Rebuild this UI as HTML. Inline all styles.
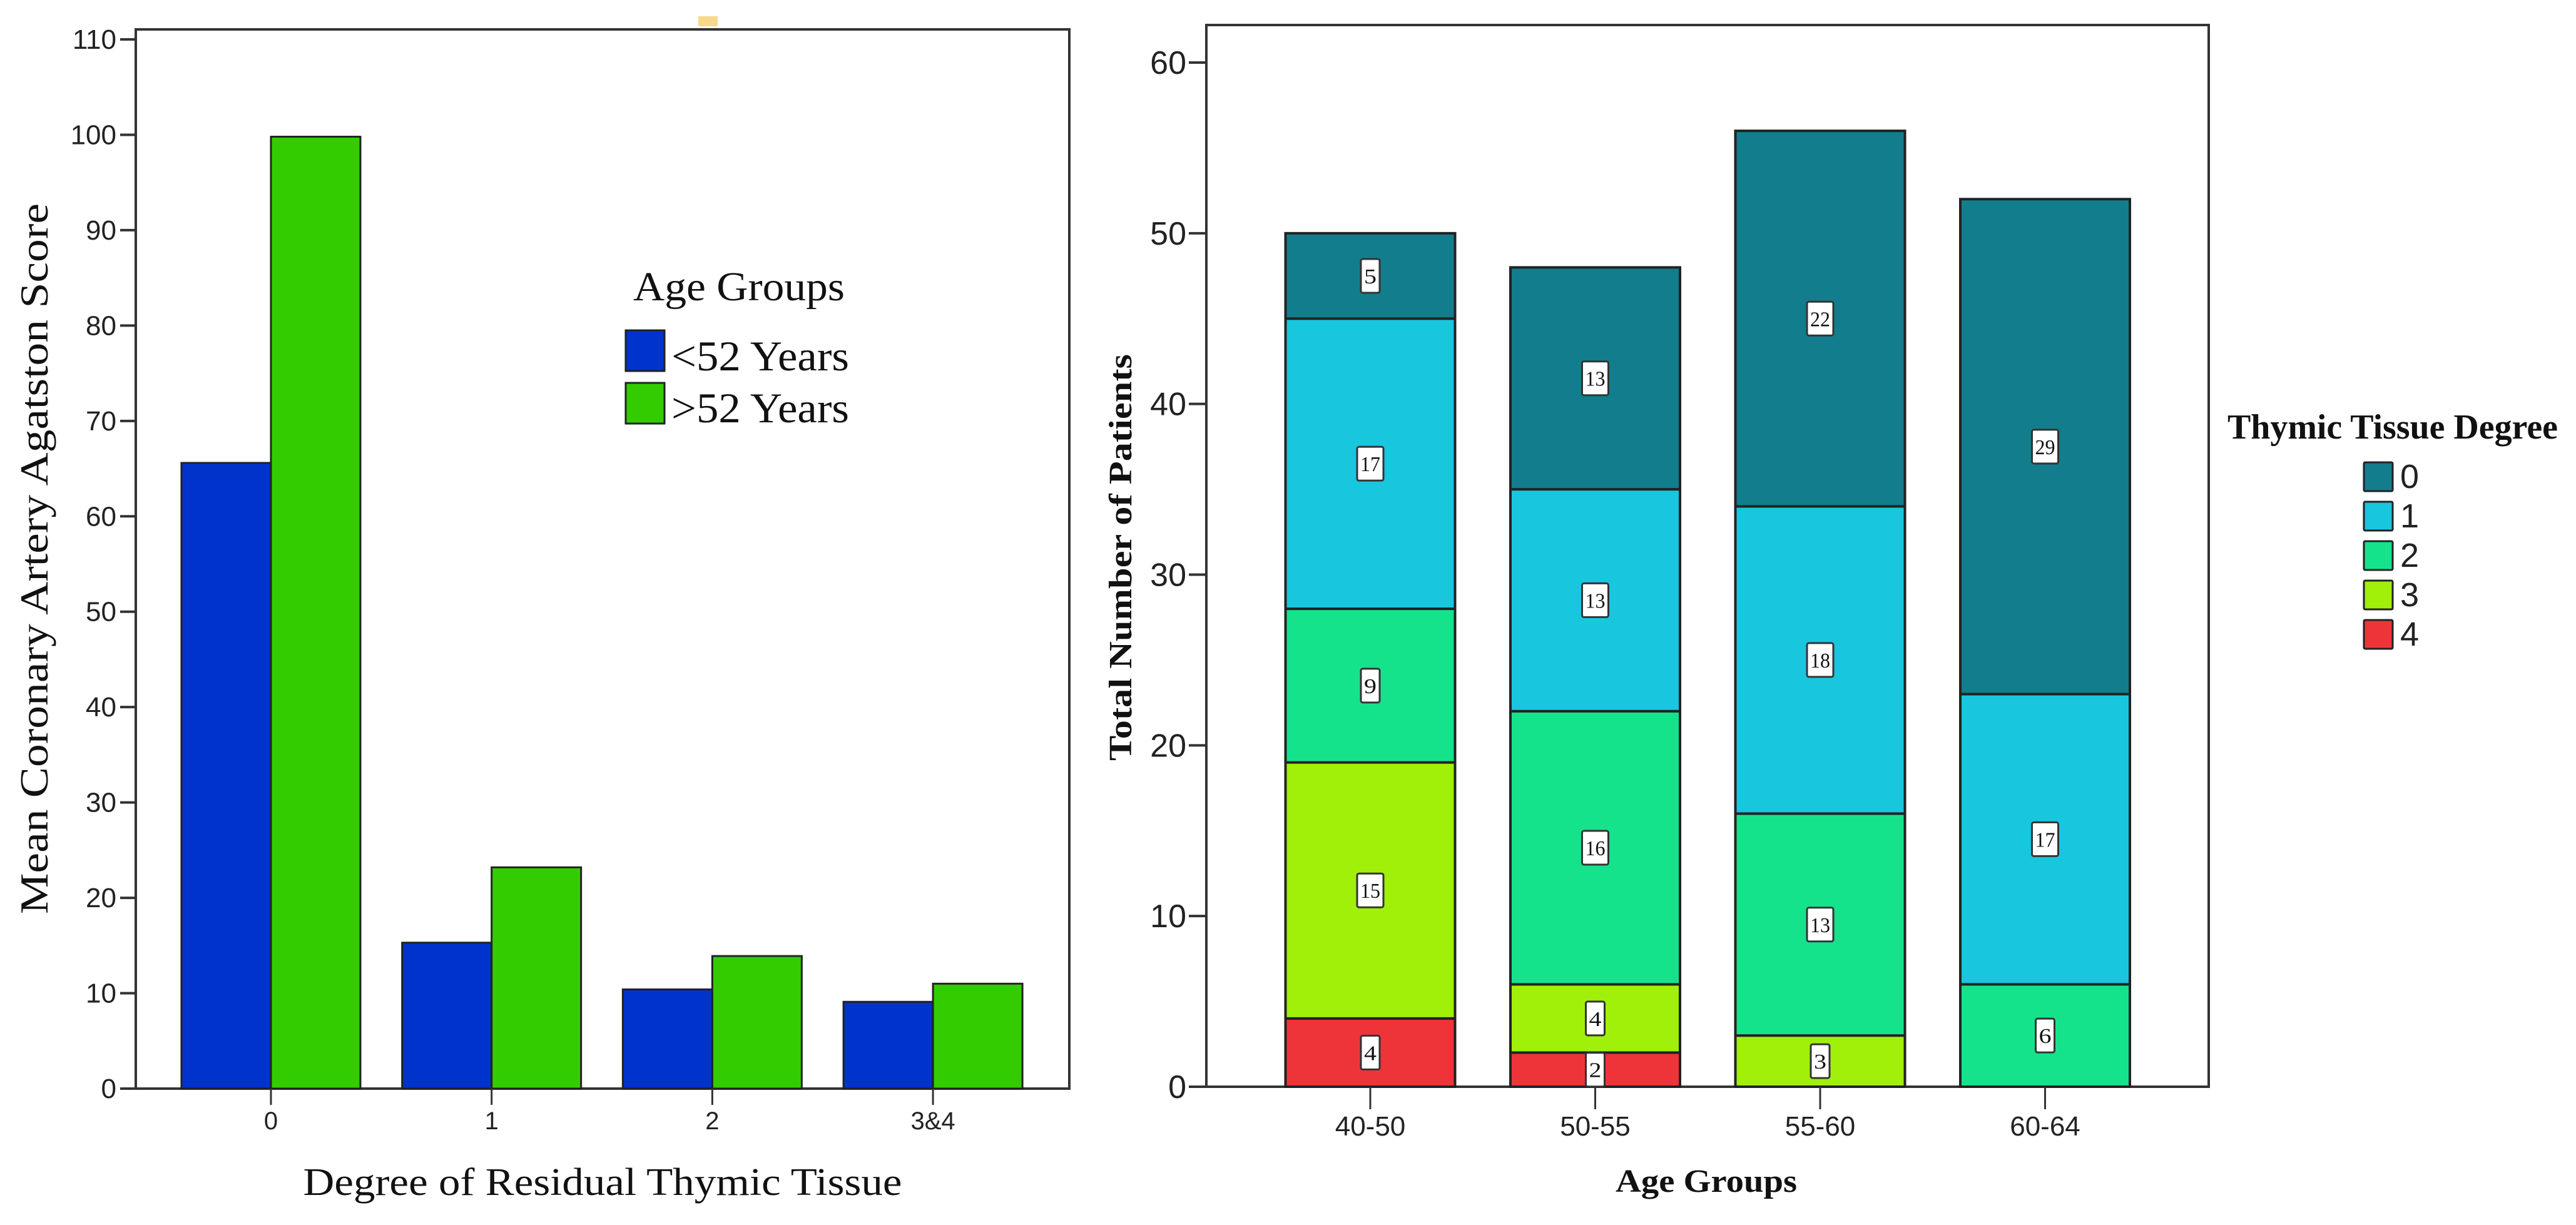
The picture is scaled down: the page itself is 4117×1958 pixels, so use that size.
<!DOCTYPE html>
<html><head><meta charset="utf-8"><style>
html,body{margin:0;padding:0;background:#fff;}
svg{display:block;}
.tk{font-family:"Liberation Sans Narrow","Liberation Sans",sans-serif;fill:#222;}
.sr{font-family:"Liberation Serif",serif;fill:#111;}
</style></head><body>
<svg id="chart" width="4117" height="1958" viewBox="0 0 4117 1958" xmlns="http://www.w3.org/2000/svg">
<rect x="1116" y="26" width="31" height="16" fill="#f7d98a"/>
<g id="left"></g>
<g id="right"></g>
</svg>
<script>
// Left chart data
const leftCats = ["0","1","2","3&4"];
const youngVals = [65.6, 15.3, 10.4, 9.1];
const oldVals = [99.8, 23.2, 13.9, 11.0];
const leftTicks = [0,10,20,30,40,50,60,70,80,90,100,110];
// Right chart data
const ageCats = ["40-50","50-55","55-60","60-64"];
const deg4 = [4,2,0,0];
const deg3 = [15,4,3,0];
const deg2 = [9,16,13,6];
const deg1 = [17,13,18,17];
const deg0 = [5,13,22,29];
const rightTicks = [0,10,20,30,40,50,60];

const NS="http://www.w3.org/2000/svg";
function mk(tag,attrs,parent,text){const e=document.createElementNS(NS,tag);for(const k in attrs)e.setAttribute(k,attrs[k]);if(text!==undefined)e.textContent=text;parent.appendChild(e);return e;}

// ---- Left chart
const L=document.getElementById('left');
const ly0=1740, lyPer=(1740-63)/110;
const ly=v=>ly0-v*lyPer;
const lcx=i=>433+i*352.7;
const lbw=143;
let e=mk('rect',{x:217,y:47,width:1492,height:1693,fill:'none',stroke:'#333','stroke-width':4},L);

leftTicks.forEach(t=>{
  let l=mk('line',{x1:192,x2:217,y1:ly(t),y2:ly(t),stroke:'#333','stroke-width':4},L);
  
  let tx=mk('text',{x:186,y:ly(t)+15,'text-anchor':'end',class:'tk','font-size':44},L,String(t));
  
});
leftCats.forEach((c,i)=>{
  let b=mk('rect',{x:lcx(i)-lbw,y:ly(youngVals[i]),width:lbw,height:ly0-ly(youngVals[i]),fill:'#0033cc',stroke:'#222','stroke-width':3},L);
  
  let g=mk('rect',{x:lcx(i),y:ly(oldVals[i]),width:lbw,height:ly0-ly(oldVals[i]),fill:'#33cc00',stroke:'#222','stroke-width':3},L);
  
  let tl=mk('line',{x1:lcx(i),x2:lcx(i),y1:ly0,y2:ly0+26,stroke:'#333','stroke-width':3},L);
  
  let tx=mk('text',{x:lcx(i),y:1805,'text-anchor':'middle',class:'tk','font-size':40},L,c);
  
});
e=mk('text',{x:0,y:0,transform:'translate(76,893) rotate(-90)','text-anchor':'middle',class:'sr','font-size':64,textLength:1136,lengthAdjust:'spacingAndGlyphs'},L,'Mean Coronary Artery Agatston Score');

e=mk('text',{x:963,y:1910,'text-anchor':'middle',class:'sr','font-size':62,textLength:957,lengthAdjust:'spacingAndGlyphs'},L,'Degree of Residual Thymic Tissue');

e=mk('text',{x:1012,y:480,class:'sr','font-size':66,textLength:338,lengthAdjust:'spacingAndGlyphs'},L,'Age Groups');

e=mk('rect',{x:1000,y:528,width:62,height:65,fill:'#0033cc',stroke:'#222','stroke-width':3},L);

e=mk('text',{x:1073,y:592,class:'sr','font-size':68,textLength:284,lengthAdjust:'spacingAndGlyphs'},L,'<52 Years');

e=mk('rect',{x:1000,y:612,width:62,height:65,fill:'#33cc00',stroke:'#222','stroke-width':3},L);

e=mk('text',{x:1073,y:675,class:'sr','font-size':68,textLength:284,lengthAdjust:'spacingAndGlyphs'},L,'>52 Years');


// ---- Right chart
const R=document.getElementById('right');
const ry0=1737, ryPer=(1737-100)/60;
const ry=v=>ry0-v*ryPer;
const rcx=i=>2190+i*359.5;
const bw=271;
e=mk('rect',{x:1928,y:40,width:1602,height:1697,fill:'none',stroke:'#333','stroke-width':4},R);

rightTicks.forEach(t=>{
  let l=mk('line',{x1:1900,x2:1928,y1:ry(t),y2:ry(t),stroke:'#333','stroke-width':4},R);
  
  let tx=mk('text',{x:1896,y:ry(t)+18,'text-anchor':'end',class:'tk','font-size':52},R,String(t));
  
});
const series=[deg4,deg3,deg2,deg1,deg0];
const colors=['#ef3439','#a0f00a','#15e38c','#18c6de','#127d8c'];
const sNames=['4','3','2','1','0'];
ageCats.forEach((c,i)=>{
  let base=0;
  series.forEach((s,k)=>{
    const v=s[i]; if(!v) return;
    let r=mk('rect',{x:rcx(i)-bw/2,y:ry(base+v),width:bw,height:ry(base)-ry(base+v),fill:colors[k],stroke:'#222','stroke-width':4},R);
    
    base+=v;
  });
  base=0;
  series.forEach((s,k)=>{
    const v=s[i]; if(!v) return;
    const cy=(ry(base)+ry(base+v))/2;
    const w=String(v).length>1?42:30;
    let lb=mk('rect',{x:rcx(i)-w/2,y:cy-27,width:w,height:54,fill:'#fff',stroke:'#333','stroke-width':3,rx:3},R);
    
    let lt=mk('text',{x:rcx(i),y:cy+12,'text-anchor':'middle',class:'sr','font-size':34,textLength:w-10,lengthAdjust:'spacingAndGlyphs'},R,String(v));
    
    base+=v;
  });
  let tl=mk('line',{x1:rcx(i),x2:rcx(i),y1:ry0,y2:ry0+36,stroke:'#333','stroke-width':3},R);
  
  let tx=mk('text',{x:rcx(i),y:1815,'text-anchor':'middle',class:'tk','font-size':44},R,c);
  
});
e=mk('text',{x:0,y:0,transform:'translate(1808,891) rotate(-90)','text-anchor':'middle',class:'sr','font-size':52,'font-weight':'bold',textLength:650,lengthAdjust:'spacingAndGlyphs'},R,'Total Number of Patients');

e=mk('text',{x:2727,y:1905,'text-anchor':'middle',class:'sr','font-size':52,'font-weight':'bold',textLength:290,lengthAdjust:'spacingAndGlyphs'},R,'Age Groups');

e=mk('text',{x:3560,y:701,class:'sr','font-size':56,'font-weight':'bold',textLength:528,lengthAdjust:'spacingAndGlyphs'},R,'Thymic Tissue Degree');

['0','1','2','3','4'].forEach((n,j)=>{
  const k=4-j;
  let s=mk('rect',{x:3778,y:739+j*63,width:46,height:46,fill:colors[k],stroke:'#222','stroke-width':3,rx:2},R);
  
  let t=mk('text',{x:3836,y:780+j*63,class:'tk','font-size':54},R,n);
  
});
</script>
</body></html>
